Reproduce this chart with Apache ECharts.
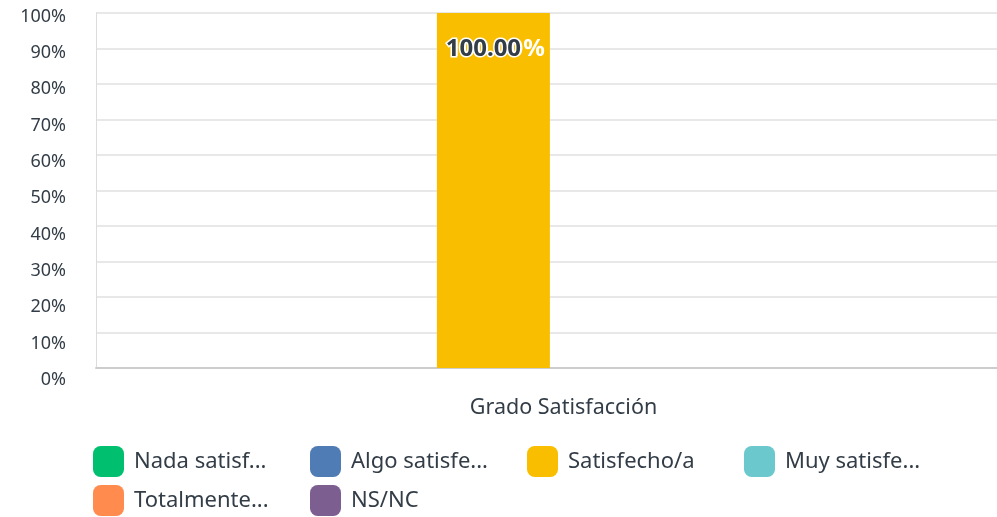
<!DOCTYPE html>
<html>
<head>
<meta charset="utf-8">
<script src="https://cdn.jsdelivr.net/npm/echarts@6/dist/echarts.min.js"></script>
<style>
  html, body { margin: 0; padding: 0; background: #fff; }
  #chart { width: 997px; height: 517px; }
</style>
</head>
<body>
<div id="chart"></div>
<script>
// Survey answers for a single question, in percent
const categories = ['Grado Satisfacción'];
const seriesNames = ['Nada satisfecho/a', 'Algo satisfecho/a', 'Satisfecho/a', 'Muy satisfecho/a', 'Totalmente satisfecho/a', 'NS/NC'];
const nadaValues = [0];
const algoValues = [0];
const satisfechoValues = [100];
const muyValues = [0];
const totalmenteValues = [0];
const nsncValues = [0];
const yTicks = [0, 10, 20, 30, 40, 50, 60, 70, 80, 90, 100];

const seriesValues = [nadaValues, algoValues, satisfechoValues, muyValues, totalmenteValues, nsncValues];
const colors = ['#00BF6F', '#507CB6', '#F9BE00', '#6BC8CD', '#FF8B4F', '#7D5E90'];
const textColor = '#333d47';
const font = '"Noto Sans", "Open Sans", sans-serif';

const chart = echarts.init(document.getElementById('chart'), null, { renderer: 'canvas' });

const barWidth = 113;
const barGap = '-6%';

const bars = seriesNames.map((name, i) => ({
  name: name,
  type: 'bar',
  data: seriesValues[i],
  stack: 's' + i,
  barWidth: barWidth,
  barGap: barGap,
  itemStyle: { color: colors[i] },
  label: {
    show: seriesValues[i][0] > 0,
    position: 'insideTop',
    distance: 24,
    offset: [3, 0],
    color: '#fff',
    fontSize: 24,
    fontWeight: 'bold',
    fontFamily: font,
    formatter: p => p.value.toFixed(2) + '%'
  }
}));

// second value label sitting on top of the Satisfecho/a bar
bars.push({
  name: 'valor',
  type: 'bar',
  data: satisfechoValues.map(() => 0),
  stack: 's2',
  barWidth: barWidth,
  barGap: barGap,
  itemStyle: { color: 'transparent' },
  label: {
    show: true,
    position: 'insideTop',
    distance: 24,
    offset: [-10, 0],
    color: textColor,
    textBorderColor: '#fff',
    textBorderWidth: 3,
    fontSize: 24,
    fontWeight: 'bold',
    fontFamily: font,
    formatter: p => satisfechoValues[p.dataIndex].toFixed(2)
  },
  z: 5
});

// legend laid out as a 4-column grid, one legend component per entry
const legendCols = 4;
const legends = seriesNames.map((name, i) => ({
  orient: 'horizontal',
  icon: 'roundRect',
  itemWidth: 31,
  itemHeight: 31,
  left: 88 + (i % legendCols) * 217,
  top: 441 + Math.floor(i / legendCols) * 39,
  data: [name],
  textStyle: {
    color: textColor,
    fontSize: 22,
    fontFamily: font,
    width: 140,
    overflow: 'truncate',
    ellipsis: '...',
    padding: [0, 0, 0, 5]
  }
}));

// y tick labels drift slightly downward toward the bottom of the axis
const yLabelRich = {};
yTicks.forEach((v, i) => {
  const shift = 3.5 + (yTicks.length - 1 - i) * 0.85;
  yLabelRich['t' + i] = {
    color: textColor, fontSize: 18, fontFamily: font,
    padding: [shift * 2, 0, 0, 0]
  };
});

chart.setOption({
  animation: false,
  backgroundColor: '#fff',
  color: colors,
  grid: { left: 96, right: 0, top: 13, bottom: 149, containLabel: false },
  legend: legends,
  xAxis: {
    type: 'category',
    data: categories,
    axisLine: { show: true, lineStyle: { color: '#cccccc', width: 2 } },
    axisTick: { show: false },
    axisLabel: { color: textColor, fontSize: 21.5, fontFamily: font, margin: 29, padding: [0, 0, 0, 34] }
  },
  yAxis: {
    type: 'value',
    min: yTicks[0],
    max: yTicks[yTicks.length - 1],
    interval: yTicks[1] - yTicks[0],
    axisLine: { show: true, lineStyle: { color: '#dcdcdc', width: 1 } },
    axisTick: { show: false },
    splitLine: { lineStyle: { color: '#e8e8e8', width: 2 } },
    axisLabel: {
      margin: 30,
      formatter: v => '{t' + yTicks.indexOf(v) + '|' + v + '%}',
      rich: yLabelRich
    }
  },
  series: bars
});
</script>
</body>
</html>
